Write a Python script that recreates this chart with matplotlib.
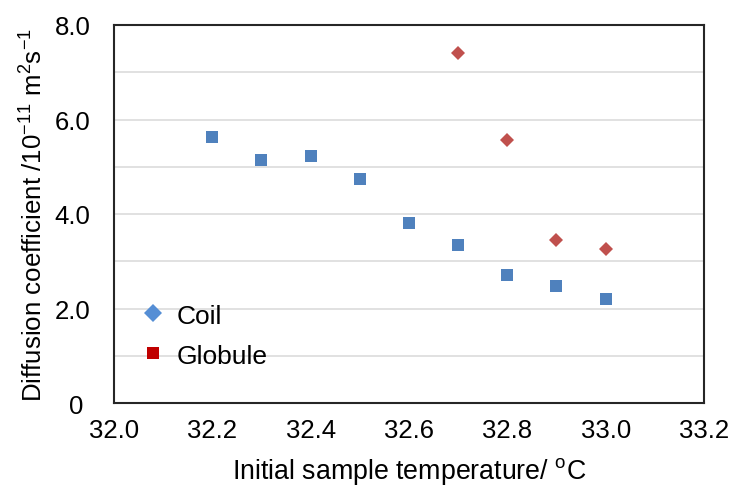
import matplotlib
matplotlib.use("Agg")
import matplotlib.pyplot as plt
from matplotlib.lines import Line2D

plt.rcParams['font.family'] = ['Liberation Sans', 'DejaVu Sans']
plt.rcParams['mathtext.fontset'] = 'custom'
plt.rcParams['mathtext.rm'] = 'Liberation Sans'
plt.rcParams['mathtext.it'] = 'Liberation Sans:italic'
plt.rcParams['mathtext.bf'] = 'Liberation Sans:bold'

# Data
coil_x = [32.2, 32.3, 32.4, 32.5, 32.6, 32.7, 32.8, 32.9, 33.0]
coil_y = [5.64, 5.14, 5.23, 4.74, 3.80, 3.34, 2.71, 2.47, 2.21]
glob_x = [32.7, 32.8, 32.9, 33.0]
glob_y = [7.41, 5.57, 3.45, 3.25]

x_ticks = [32.0, 32.2, 32.4, 32.6, 32.8, 33.0, 33.2]
x_ticklabels = ['32.0', '32.2', '32.4', '32.6', '32.8', '33.0', '33.2']
y_ticks = [0, 2, 4, 6, 8]
y_ticklabels = ['0 ', '2.0', '4.0', '6.0', '8.0']

W, H = 736, 489
fig = plt.figure(figsize=(W / 100, H / 100), dpi=100)
ax = fig.add_axes([114 / W, 1 - 404 / H, 590 / W, 378 / H])

blue = '#4F81BD'
red = '#C0504D'

ax.plot(coil_x, coil_y, linestyle='none', marker='s', markersize=9.2,
        color=blue, markeredgewidth=0, zorder=3)
ax.plot(glob_x, glob_y, linestyle='none', marker='D', markersize=6.8,
        color=red, markeredgewidth=0, zorder=3)

ax.set_xlim(32.0, 33.2)
ax.set_ylim(0, 8)
ax.set_xticks(x_ticks)
ax.set_xticklabels(x_ticklabels)
ax.set_yticks(y_ticks)
ax.set_yticklabels(y_ticklabels)
ax.set_yticks([1, 2, 3, 4, 5, 6, 7], minor=True)
ax.grid(True, which='minor', axis='y', color='#D9D9D9', linewidth=1.1, zorder=0)
ax.grid(True, which='major', axis='y', color='#D9D9D9', linewidth=1.1, zorder=0)
ax.set_axisbelow(True)

ax.tick_params(axis='both', which='both', length=0, labelsize=18.5, colors='#000000')
ax.tick_params(axis='x', pad=11)
ax.tick_params(axis='y', pad=17)
for sp in ax.spines.values():
    sp.set_color('#262626')
    sp.set_linewidth(1.5)

ax.set_xlabel('Initial sample temperature/ $^{\\mathregular{o}}$C', fontsize=19.3, labelpad=9)
ax.set_ylabel('Diffusion coefficient /10$^{\\mathregular{-11}}$ m$^{\\mathregular{2}}$s$^{\\mathregular{-1}}$',
              fontsize=18.6, labelpad=5)

handles = [
    Line2D([], [], linestyle='none', marker='D', markersize=9.5, color='#558ED5', markeredgewidth=0),
    Line2D([], [], linestyle='none', marker='s', markersize=9.0, color='#C00000', markeredgewidth=0),
]
ax.legend(handles, ['Coil', 'Globule'], loc='lower left', bbox_to_anchor=(0.012, 0.045),
          frameon=False, fontsize=19, handlelength=1.0, handletextpad=0.4,
          labelspacing=0.6, borderaxespad=0.3)

fig.savefig('out.png', dpi=100)
